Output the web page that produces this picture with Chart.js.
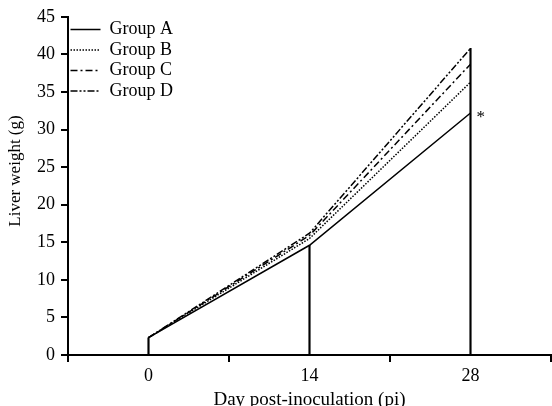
<!DOCTYPE html>
<html>
<head>
<meta charset="utf-8">
<script src="https://cdn.jsdelivr.net/npm/chart.js@4.4.1/dist/chart.umd.min.js"></script>
<style>
  html, body { margin: 0; padding: 0; background: #fff; overflow: hidden; }
  #wrap { position: relative; width: 552px; height: 410px; }
</style>
</head>
<body>
<div id="wrap"><canvas id="chart"></canvas></div>
<script>
// days post-inoculation (categories)
var days = ['0', '14', '28'];

// liver weight (g) per group
var groupA = [2.3, 14.6, 32.2];
var groupB = [2.3, 15.5, 36.3];
var groupC = [2.3, 15.9, 38.7];
var groupD = [2.3, 16.2, 40.8];

// vertical drop lines at each day
var dropLine = [2.3, 14.6, 40.8];

// marker next to group A on day 28
var starLabel = '*';

Chart.defaults.font.family = "'Liberation Serif', 'Times New Roman', serif";
Chart.defaults.font.size = 18;
Chart.defaults.color = '#000';

// draws the significance star just right of the last group A point
var starPlugin = {
  id: 'star',
  afterDatasetsDraw: function(chart) {
    var meta = chart.getDatasetMeta(0);
    var pt = meta.data[meta.data.length - 1];
    var ctx = chart.ctx;
    ctx.save();
    ctx.fillStyle = '#000';
    ctx.font = "17px 'Liberation Serif', serif";
    ctx.textAlign = 'left';
    ctx.textBaseline = 'alphabetic';
    ctx.fillText(starLabel, pt.x + 6, pt.y + 9);
    ctx.restore();
  }
};

function lineSet(label, data, dash) {
  return {
    type: 'line',
    label: label,
    data: data,
    borderColor: '#000',
    backgroundColor: '#000',
    borderWidth: 1.5,
    borderDash: dash,
    pointRadius: 0,
    pointStyle: 'line',
    tension: 0,
    fill: false
  };
}

var ctx = document.getElementById('chart');
var chart = new Chart(ctx, {
  type: 'line',
  data: {
    labels: days,
    datasets: [
      lineSet('Group A', groupA, []),
      lineSet('Group B', groupB, [1.5, 1.5]),
      lineSet('Group C', groupC, [7, 3, 2, 3]),
      lineSet('Group D', groupD, [7, 2, 2, 2, 2, 2]),
      {
        type: 'bar',
        label: 'drop',
        data: dropLine,
        backgroundColor: '#000',
        borderWidth: 0,
        barThickness: 1.5
      }
    ]
  },
  options: {
    responsive: true,
    maintainAspectRatio: false,
    animation: false,
    layout: {
      padding: { top: 6.7, right: 1, bottom: 0, left: 0 }
    },
    plugins: {
      tooltip: { enabled: false },
      legend: {
        position: 'chartArea',
        align: 'start',
        // empty title only pushes the entries down from the top of the plot
        title: {
          display: true,
          text: ' ',
          font: { size: 1 },
          padding: { top: 16.8, bottom: 0 }
        },
        labels: {
          usePointStyle: true,
          pointStyle: 'line',
          pointStyleWidth: 30,
          padding: 2.5,
          color: '#000',
          font: { size: 18 },
          filter: function(item) { return item.datasetIndex < 4; },
          generateLabels: function(chart) {
            var items = Chart.defaults.plugins.legend.labels.generateLabels(chart);
            items.forEach(function(it) {
              var ds = chart.data.datasets[it.datasetIndex];
              it.lineDash = ds.borderDash;
              it.lineWidth = ds.borderWidth;
            });
            return items;
          }
        }
      }
    },
    scales: {
      x: {
        type: 'category',
        offset: true,
        grid: {
          offset: true,
          drawOnChartArea: false,
          drawTicks: true,
          tickLength: 7,
          color: '#000',
          lineWidth: 2
        },
        border: { color: '#000', width: 2 },
        ticks: { padding: 3.7, color: '#000' },
        title: {
          display: true,
          text: 'Day post-inoculation (pi)',
          color: '#000',
          font: { size: 19, lineHeight: 1.0 },
          padding: { top: 0, bottom: 0 }
        }
      },
      y: {
        min: 0,
        max: 45,
        grid: {
          drawOnChartArea: false,
          drawTicks: true,
          tickLength: 7,
          color: '#000',
          lineWidth: 2
        },
        border: { color: '#000', width: 2 },
        ticks: { stepSize: 5, padding: 6, color: '#000' },
        title: {
          display: true,
          text: '\u00a0\u00a0\u00a0\u00a0\u00a0\u00a0\u00a0Liver weight (g)',
          color: '#000',
          font: { size: 17 },
          padding: { top: 5.4, bottom: 5.2 }
        }
      }
    }
  },
  plugins: [starPlugin]
});
</script>
</body>
</html>
